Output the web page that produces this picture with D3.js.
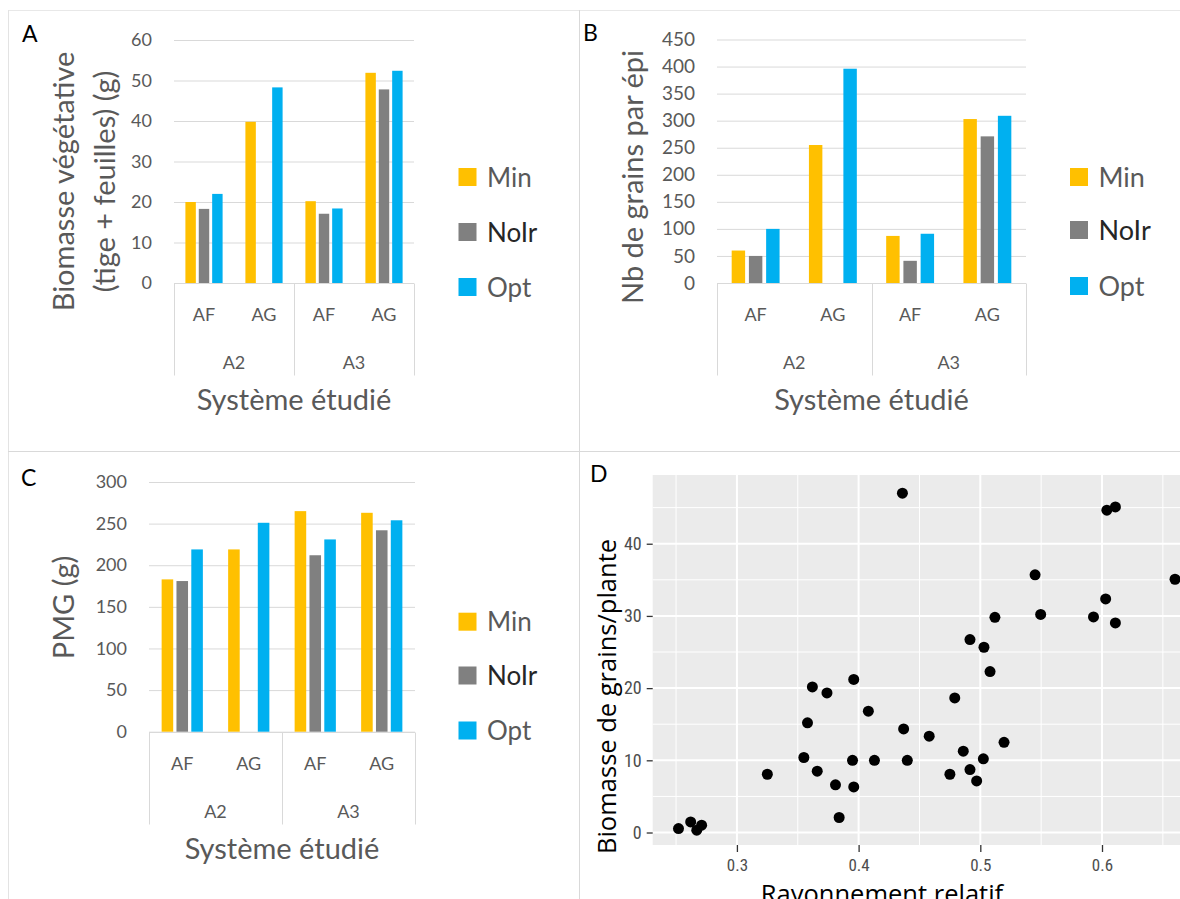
<!DOCTYPE html>
<html><head><meta charset="utf-8">
<script src="https://cdn.jsdelivr.net/npm/d3@7"></script>
<style>body{margin:0;background:#fff}svg{display:block}</style>
</head><body><svg id="c" width="1180" height="899"></svg>
<script>
// ---------- DATA ----------
const categories = ["AF", "AG", "AF", "AG"];
const groups = ["A2", "A3"];
const seriesNames = ["Min", "NoIr", "Opt"];
const seriesColors = ["#FFC000", "#808080", "#00B0F0"];

// Panel A: Biomasse végétative (g)
const vegMin  = [20.0, 39.8, 20.2, 51.9];
const vegNoIr = [18.3, null, 17.1, 47.8];
const vegOpt  = [22.0, 48.3, 18.4, 52.4];
const vegTicks = [0, 10, 20, 30, 40, 50, 60];

// Panel B: Nb de grains par épi
const grainsMin  = [60, 255, 87, 303];
const grainsNoIr = [50, null, 41, 271];
const grainsOpt  = [100, 396, 91, 309];
const grainsTicks = [0, 50, 100, 150, 200, 250, 300, 350, 400, 450];

// Panel C: PMG (g)
const pmgMin  = [183, 219, 265, 263];
const pmgNoIr = [181, null, 212, 242];
const pmgOpt  = [219, 251, 231, 254];
const pmgTicks = [0, 50, 100, 150, 200, 250, 300];

// Panel D: scatter
const rayonnement = [0.252, 0.262, 0.267, 0.271, 0.325, 0.355, 0.358, 0.362, 0.366, 0.374,
  0.381, 0.384, 0.396, 0.395, 0.396, 0.408, 0.413, 0.436, 0.437, 0.440,
  0.458, 0.475, 0.479, 0.486, 0.4915, 0.4915, 0.497, 0.5025, 0.503, 0.508,
  0.512, 0.5195, 0.545, 0.5496, 0.593, 0.603, 0.604, 0.611, 0.611, 0.660];
const biomasseGrains = [0.55, 1.47, 0.32, 1.01, 8.07, 10.39, 15.2, 20.17, 8.49, 19.34,
  6.6, 2.08, 21.2, 10.0, 6.32, 16.8, 10.0, 47.0, 14.35, 10.0,
  13.34, 8.07, 18.64, 11.26, 26.73, 8.72, 7.15, 10.2, 25.66, 22.3,
  29.8, 12.5, 35.7, 30.2, 29.86, 32.35, 44.64, 45.1, 29.03, 35.08];
const dXTicks = [0.3, 0.4, 0.5, 0.6];
const dXMinor = [0.25, 0.35, 0.45, 0.55, 0.65];
const dYTicks = [0, 10, 20, 30, 40];
const dYMinor = [5, 15, 25, 35, 45];

// ---------- DRAWING ----------
const svg = d3.select("#c");
const excelFont = "Lato, 'Open Sans', sans-serif";
const gray = "#595959";
const gridCol = "#D9D9D9";

// panel frames
svg.append("line").attr("x1", 8).attr("x2", 1180).attr("y1", 10.5).attr("y2", 10.5).attr("stroke", "#E8E8E8");
svg.append("line").attr("x1", 8.5).attr("x2", 8.5).attr("y1", 10).attr("y2", 899).attr("stroke", "#E3E3E3");
svg.append("line").attr("x1", 579.5).attr("x2", 579.5).attr("y1", 10).attr("y2", 899).attr("stroke", gridCol);
svg.append("line").attr("x1", 8).attr("x2", 1180).attr("y1", 451.5).attr("y2", 451.5).attr("stroke", gridCol);

function barPanel(o) {
  const g = svg.append("g");
  const x0 = d3.scaleBand().domain(d3.range(categories.length)).range([o.left, o.right])
    .paddingInner(0.38).paddingOuter(0.19);
  const x1 = d3.scaleBand().domain(seriesNames).range([0, x0.bandwidth()]).paddingInner(0.22);
  const y = d3.scaleLinear().domain([0, o.ticks[o.ticks.length - 1]]).range([o.bottom, o.top]);
  const step = x0.step();

  // gridlines
  g.append("g").attr("transform", `translate(${o.left},0)`)
    .call(d3.axisLeft(y).tickValues(o.ticks).tickSize(-(o.right - o.left)).tickFormat(""))
    .call(a => a.select(".domain").remove())
    .call(a => a.selectAll("line").attr("stroke", gridCol).attr("stroke-width", 1));
  // tick labels
  g.append("g").attr("transform", `translate(${o.left},0)`)
    .call(d3.axisLeft(y).tickValues(o.ticks).tickSize(0).tickPadding(22))
    .call(a => a.select(".domain").remove())
    .call(a => a.selectAll("text").attr("fill", gray).style("font-family", excelFont)
      .style("font-size", o.tickSize + "px"));

  // bars
  seriesNames.forEach((s, si) => {
    const vals = o.values[si].map((v, i) => ({ v, i })).filter(d => d.v != null);
    g.append("g").selectAll("rect").data(vals).join("rect")
      .attr("x", d => x0(d.i) + x1(s)).attr("width", x1.bandwidth())
      .attr("y", d => y(d.v)).attr("height", d => y(0) - y(d.v))
      .attr("fill", seriesColors[si]);
  });

  // category axis
  const y0 = Math.round(y(0)) + 0.5;
  g.append("line").attr("x1", o.left).attr("x2", o.right).attr("y1", y0).attr("y2", y0).attr("stroke", gridCol);
  [0, 2, 4].forEach(k => {
    const xx = Math.round(o.left + k * step) + 0.5;
    g.append("line").attr("x1", xx).attr("x2", xx).attr("y1", y0).attr("y2", y0 + 92).attr("stroke", gridCol);
  });
  categories.forEach((c, i) => {
    g.append("text").attr("x", x0(i) + x0.bandwidth() / 2).attr("y", y0 + 37)
      .attr("text-anchor", "middle").attr("fill", gray)
      .style("font-family", excelFont).style("font-size", "18px").text(c);
  });
  groups.forEach((gn, k) => {
    g.append("text").attr("x", o.left + (2 * k + 1) * step).attr("y", y0 + 85)
      .attr("text-anchor", "middle").attr("fill", gray)
      .style("font-family", excelFont).style("font-size", "18px").text(gn);
  });
  g.append("text").attr("x", (o.left + o.right) / 2).attr("y", y0 + 126)
    .attr("text-anchor", "middle").attr("fill", gray)
    .style("font-family", excelFont).style("font-size", "29px").text("Système étudié");

  // y title
  o.yTitle.forEach((t, k) => {
    g.append("text").attr("transform", `translate(${o.yTitleX[k]},${o.yTitleY}) rotate(-90)`)
      .attr("text-anchor", "middle").attr("fill", gray)
      .style("font-family", excelFont).style("font-size", "29px").text(t);
  });

  // legend
  seriesNames.forEach((s, si) => {
    const cy = o.legendY[si];
    g.append("rect").attr("x", o.legendX).attr("y", cy - 9).attr("width", 18).attr("height", 18)
      .attr("fill", seriesColors[si]);
    g.append("text").attr("x", o.legendX + 28.5).attr("y", cy + 9.5)
      .attr("fill", si === 1 ? "#262626" : gray)
      .style("font-family", excelFont).style("font-size", o.legendSize + "px").text(s);
  });

  // panel letter
  g.append("text").attr("x", o.letterX).attr("y", o.letterY).attr("fill", "#000")
    .style("font-family", excelFont).style("font-size", "23px").text(o.letter);
}

barPanel({
  left: 174, right: 414, top: 40, bottom: 283, ticks: vegTicks, tickSize: 18,
  values: [vegMin, vegNoIr, vegOpt],
  yTitle: ["Biomasse végétative", "(tige + feuilles) (g)"], yTitleX: [74, 114.5], yTitleY: 181.5,
  legendX: 458.5, legendY: [177, 232, 287], legendSize: 26,
  letter: "A", letterX: 22, letterY: 42
});
barPanel({
  left: 717, right: 1026, top: 39.5, bottom: 283, ticks: grainsTicks, tickSize: 19,
  values: [grainsMin, grainsNoIr, grainsOpt],
  yTitle: ["Nb de grains par épi"], yTitleX: [643], yTitleY: 177,
  legendX: 1070, legendY: [177, 230, 286], legendSize: 27,
  letter: "B", letterX: 583, letterY: 41
});
barPanel({
  left: 149, right: 415, top: 482, bottom: 731.7, ticks: pmgTicks, tickSize: 18,
  values: [pmgMin, pmgNoIr, pmgOpt],
  yTitle: ["PMG (g)"], yTitleX: [74], yTitleY: 607.5,
  legendX: 458.5, legendY: [621.7, 675.5, 730.5], legendSize: 26,
  letter: "C", letterX: 21, letterY: 486
});

// ---------- Panel D (ggplot style scatter) ----------
(function () {
  const g = svg.append("g");
  const left = 652.7, right = 1199, top = 475, bottom = 845;
  const x = d3.scaleLinear().domain([0.2308, 0.6797]).range([left, right]);
  const y = d3.scaleLinear().domain([-1.73, 49.52]).range([bottom, top]);
  g.append("rect").attr("x", left).attr("y", top).attr("width", right - left).attr("height", bottom - top)
    .attr("fill", "#EBEBEB");
  // minor grid
  g.append("g").selectAll("line").data(dXMinor).join("line")
    .attr("x1", d => x(d)).attr("x2", d => x(d)).attr("y1", top).attr("y2", bottom)
    .attr("stroke", "#fff").attr("stroke-width", 1);
  g.append("g").selectAll("line").data(dYMinor).join("line")
    .attr("x1", left).attr("x2", right).attr("y1", d => y(d)).attr("y2", d => y(d))
    .attr("stroke", "#fff").attr("stroke-width", 1);
  // major grid
  g.append("g").selectAll("line").data(dXTicks).join("line")
    .attr("x1", d => x(d)).attr("x2", d => x(d)).attr("y1", top).attr("y2", bottom)
    .attr("stroke", "#fff").attr("stroke-width", 2);
  g.append("g").selectAll("line").data(dYTicks).join("line")
    .attr("x1", left).attr("x2", right).attr("y1", d => y(d)).attr("y2", d => y(d))
    .attr("stroke", "#fff").attr("stroke-width", 2);
  // points
  g.append("g").selectAll("circle").data(rayonnement.map((r, i) => [r, biomasseGrains[i]])).join("circle")
    .attr("cx", d => x(d[0])).attr("cy", d => y(d[1])).attr("r", 5.5).attr("fill", "#000");
  // axes
  const tickFont = "'Liberation Sans Narrow', 'Roboto Condensed', Roboto, sans-serif";
  g.append("g").attr("transform", `translate(${left},0)`)
    .call(d3.axisLeft(y).tickValues(dYTicks).tickSize(6).tickPadding(5))
    .call(a => a.select(".domain").remove())
    .call(a => a.selectAll("line").attr("stroke", "#333").attr("stroke-width", 1.3))
    .call(a => a.selectAll("text").attr("fill", "#4D4D4D").style("font-family", tickFont)
      .style("font-size", "18px"));
  g.append("g").attr("transform", `translate(0,${bottom})`)
    .call(d3.axisBottom(x).tickValues(dXTicks).tickSize(7).tickPadding(7).tickFormat(d3.format(".1f")))
    .call(a => a.select(".domain").remove())
    .call(a => a.selectAll("line").attr("stroke", "#333").attr("stroke-width", 1.3))
    .call(a => a.selectAll("text").attr("fill", "#4D4D4D").style("font-family", tickFont)
      .style("font-size", "17px"));
  // titles
  g.append("text").attr("transform", "translate(616,696.5) rotate(-90)").attr("text-anchor", "middle")
    .attr("fill", "#000").style("font-family", "'Open Sans', sans-serif").style("font-size", "25.5px")
    .text("Biomasse de grains/plante");
  g.append("text").attr("x", 882).attr("y", 903).attr("text-anchor", "middle")
    .attr("fill", "#000").style("font-family", "'Open Sans', sans-serif").style("font-size", "25.5px")
    .text("Rayonnement relatif");
  g.append("text").attr("x", 590).attr("y", 482).attr("fill", "#000")
    .style("font-family", excelFont).style("font-size", "23px").text("D");
})();
</script>
</body></html>
